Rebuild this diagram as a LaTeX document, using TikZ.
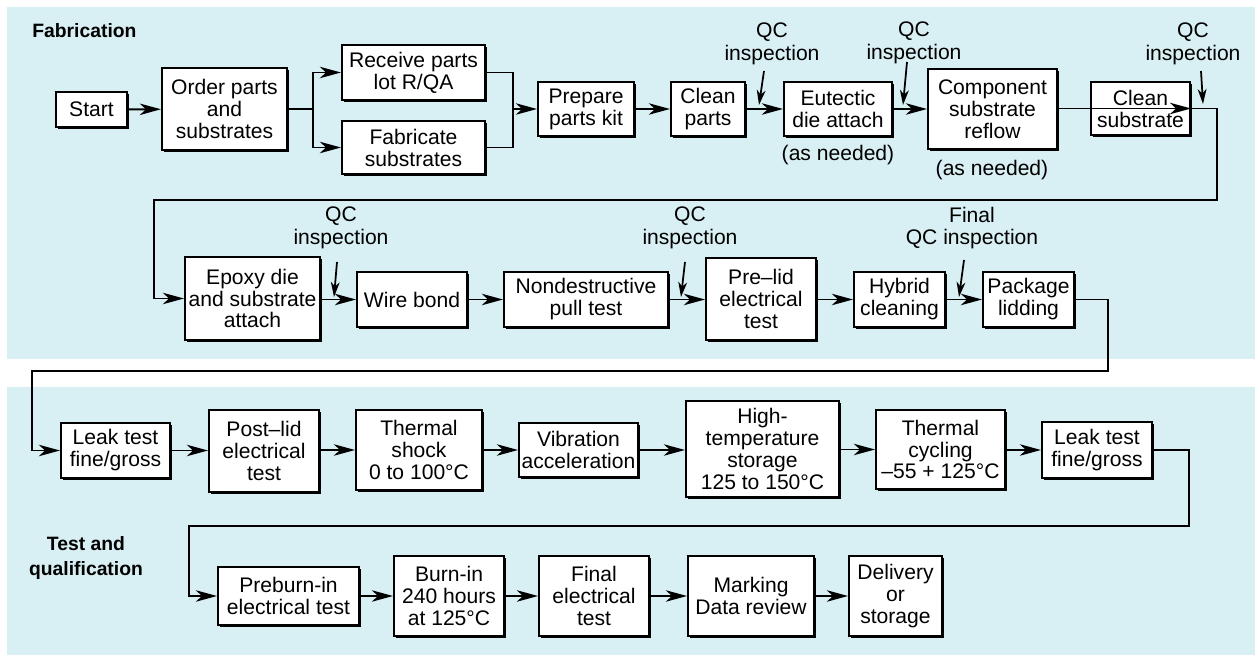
\documentclass[tikz,border=0pt]{standalone}
\usepackage{fontspec}
\setmainfont{Liberation Sans}
\usetikzlibrary{arrows.meta,shadows}
\definecolor{panel}{RGB}{216,239,243}
\tikzset{
  box/.style={draw=black, fill=white, line width=1.2pt, align=center, inner sep=0pt,
    font=\fontsize{12}{12.5}\selectfont,
    drop shadow={shadow xshift=0.9pt, shadow yshift=-0.9pt, fill=black, opacity=1}},
  arr/.style={line width=1.1pt, -{Stealth[length=12pt,width=6.5pt,inset=3.5pt]}},
  conn/.style={line width=1.1pt},
  qcarr/.style={line width=1pt, -{Stealth[length=8.5pt,width=5pt,inset=2.5pt]}},
  lbl/.style={align=center, inner sep=0pt, font=\fontsize{12}{13}\selectfont},
  title/.style={align=center, inner sep=0pt, font=\bfseries\fontsize{11}{14.7}\selectfont},
}
\newcommand\mybox[6]{\node[box, minimum width={(#4-#2)*0.02cm}, minimum height={(#5-#3)*0.02cm}] (#1) at ({(#2+#4)/2},{(#3+#5)/2}) {#6};}
\begin{document}
\begin{tikzpicture}[x=0.02cm, y=-0.02cm]
\useasboundingbox (0,0) rectangle (1255,655);
\fill[white] (0,0) rectangle (1255,655);
\fill[panel] (7,7) rectangle (1255,359);
\fill[panel] (7,387) rectangle (1255,655);

% titles
\node[title, anchor=west] (fab) at (32,31) {Fabrication};
\node[title] (tq) at (86,558) {Test and\\qualification};

% row 1
\mybox{start}{56}{92}{127}{127}{Start}
\mybox{order}{162}{68}{287}{150}{Order parts\\and\\substrates}
\mybox{receive}{342}{45}{485}{100}{Receive parts\\lot R/QA}
\mybox{fabricate}{342}{121}{485}{174}{Fabricate\\substrates}
\mybox{prepare}{538}{82}{634}{136}{Prepare\\parts kit}
\mybox{cleanp}{671}{82}{745}{136}{Clean\\parts}
\mybox{eutectic}{784}{82}{892}{136}{Eutectic\\die attach}
\mybox{component}{928}{69}{1057}{149}{Component\\substrate\\reflow}
\mybox{cleansub}{1091}{82}{1190}{135}{Clean\\substrate}

\node[lbl] (an1) at (838,155) {(as needed)};
\node[lbl] (an2) at (992,170) {(as needed)};

\coordinate (split) at (313,109);
\coordinate (merge) at (513,109);
\draw[arr] (start) -- (order);
\draw[conn] (order.east) -- (split);
\draw[arr] (split) |- (receive.west);
\draw[arr] (split) |- (fabricate.west);
\draw[conn] (receive.east) -| (merge);
\draw[conn] (fabricate.east) -| (merge);
\draw[arr] (merge) -- (prepare);
\draw[arr] (prepare) -- (cleanp);
\draw[arr] (cleanp) -- (eutectic);
\draw[arr] (eutectic.east) -- (component.west |- eutectic.east);
\draw[arr] (component.east |- cleansub.east) -- (cleansub.east);

\node[lbl] (qc1) at (772,44) {QC\\inspection};
\node[lbl] (qc2) at (914,43) {QC\\inspection};
\node[lbl] (qc3) at (1193,44) {QC\\inspection};
\coordinate (q1a) at (764,71); \coordinate (q1b) at (759,105);
\coordinate (q2a) at (907,62); \coordinate (q2b) at (903,105);
\coordinate (q3a) at (1201,71); \coordinate (q3b) at (1203,104);
\draw[qcarr] (q1a) -- (q1b);
\draw[qcarr] (q2a) -- (q2b);
\draw[qcarr] (q3a) -- (q3b);

% row 2
\mybox{epoxy}{185}{257}{320}{340}{Epoxy die\\and substrate\\attach}
\mybox{wire}{357}{272}{467}{327}{Wire bond}
\mybox{nondes}{504}{272}{668}{327}{Nondestructive\\pull test}
\mybox{prelid}{706}{258}{816}{340}{Pre–lid\\electrical\\test}
\mybox{hybrid}{854}{272}{945}{327}{Hybrid\\cleaning}
\mybox{lidding}{983}{272}{1074}{327}{Package\\lidding}

\coordinate (r1a) at (1217,200);
\coordinate (r1b) at (154,200);
\draw[arr] (cleansub.east) -| (r1a) -- (r1b) |- (epoxy.west);
\draw[arr] (epoxy.east |- wire.west) -- (wire.west);
\draw[arr] (wire) -- (nondes);
\draw[arr] (nondes) -- (prelid.west |- nondes.east);
\draw[arr] (prelid.east |- hybrid.west) -- (hybrid.west);
\draw[arr] (hybrid) -- (lidding);

\node[lbl] (qc4) at (341,228) {QC\\inspection};
\node[lbl] (qc5) at (690,228) {QC\\inspection};
\node[lbl] (qc6) at (972,228) {Final\\QC inspection};
\coordinate (q4a) at (337,262); \coordinate (q4b) at (334,297);
\coordinate (q5a) at (685,262); \coordinate (q5b) at (681,297);
\coordinate (q6a) at (964,260); \coordinate (q6b) at (959,297);
\draw[qcarr] (q4a) -- (q4b);
\draw[qcarr] (q5a) -- (q5b);
\draw[qcarr] (q6a) -- (q6b);

% row 3
\mybox{leak1}{61}{423}{170}{478}{Leak test\\fine/gross}
\mybox{postlid}{209}{410}{319}{492}{Post–lid\\electrical\\test}
\mybox{thermal}{356}{410}{482}{490}{Thermal\\shock\\0 to 100°C}
\mybox{vibration}{519}{423}{638}{477}{Vibration\\acceleration}
\mybox{hightemp}{686}{401}{839}{497}{High-\\temperature\\storage\\125 to 150°C}
\mybox{cycling}{876}{410}{1005}{489}{Thermal\\cycling\\–55 + 125°C}
\mybox{leak2}{1042}{422}{1152}{478}{Leak test\\fine/gross}

\coordinate (r2a) at (1108,371);
\coordinate (r2b) at (32,371);
\draw[arr] (lidding.east) -| (r2a) -- (r2b) |- (leak1.west);
\draw[arr] (leak1) -- (postlid.west |- leak1.east);
\draw[arr] (postlid.east |- thermal.west) -- (thermal.west);
\draw[arr] (thermal) -- (vibration);
\draw[arr] (vibration) -- (hightemp.west |- vibration.east);
\draw[arr] (hightemp.east |- cycling.west) -- (cycling.west);
\draw[arr] (cycling.east |- leak2.west) -- (leak2.west);

% row 4
\mybox{preburn}{218}{567}{359}{625}{Preburn-in\\electrical test}
\mybox{burnin}{394}{556}{504}{636}{Burn-in\\240 hours\\at 125°C}
\mybox{final}{539}{556}{649}{636}{Final\\electrical\\test}
\mybox{marking}{688}{556}{814}{636}{Marking\\Data review}
\mybox{delivery}{849}{556}{942}{636}{Delivery\\or\\storage}

\coordinate (r3a) at (1189,526);
\coordinate (r3b) at (189,526);
\draw[arr] (leak2.east) -| (r3a) -- (r3b) |- (preburn.west);
\draw[arr] (preburn) -- (burnin);
\draw[arr] (burnin) -- (final);
\draw[arr] (final) -- (marking);
\draw[arr] (marking) -- (delivery);
\end{tikzpicture}
\end{document}
